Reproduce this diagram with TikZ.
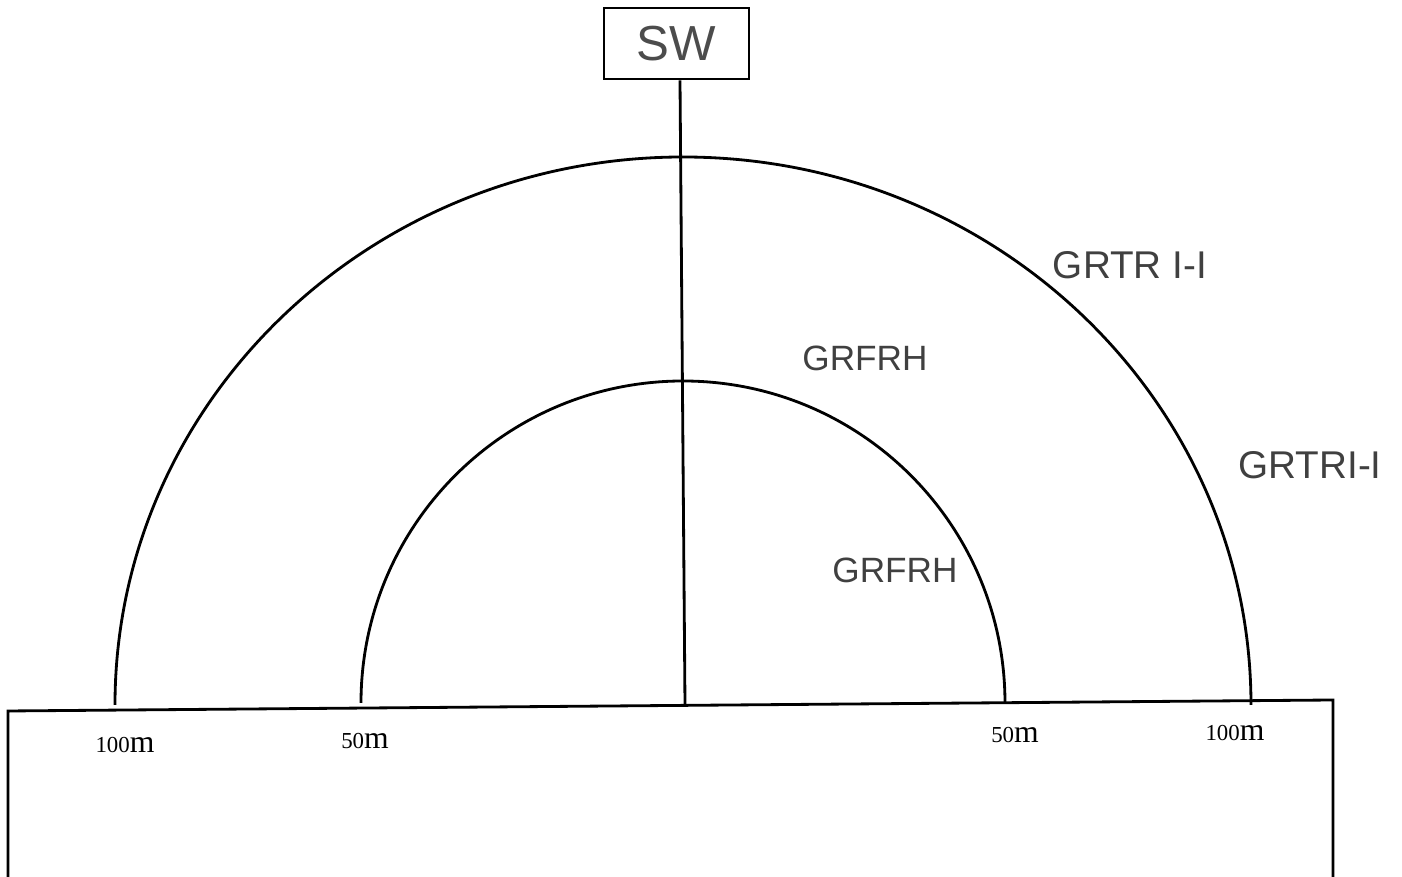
\documentclass[tikz,border=0pt]{standalone}
\usepackage{fontspec}
\setmainfont{Liberation Serif}
\newfontfamily\handfont{Liberation Sans}
\usepackage{tikz}

\newcommand{\dm}[1]{{\fontsize{6.5}{7}\selectfont #1}{\fontsize{9}{9}\selectfont m}}

\tikzset{
  hand/.style={font=\handfont\fontsize{11}{12}\selectfont, text=black!75},
  dist/.style={inner sep=1pt},
}

\begin{document}
\begin{tikzpicture}[x=0.01cm,y=-0.01cm,line width=0.8pt]
  \useasboundingbox (0,0) rectangle (1402,877);
  % base
  \draw (8,877) -- (8,711) -- (1333,700) -- (1333,877);
  % switch and cable
  \node[draw,minimum width=145*0.01cm,minimum height=71*0.01cm,
        font=\handfont\fontsize{14}{15}\selectfont,text=black!70] (sw) at (676.5,43.5) {SW};
  \coordinate (foot) at (685,705);
  \draw ([xshift=3.5*0.01cm]sw.south) -- (foot);
  % rings
  \draw (115,705) arc[start angle=180,end angle=360,x radius=568,y radius=548];
  \draw (361,703) arc[start angle=180,end angle=360,radius=322];
  % labels
  \node[hand] (outA) at (1130,265) {GRTR I-I};
  \node[hand,font=\handfont\fontsize{10}{11}\selectfont] (inA) at (865,358) {GRFRH};
  \node[hand] (outB) at (1310,465) {GRTRI-I};
  \node[hand,font=\handfont\fontsize{10}{11}\selectfont] (inB) at (895,570) {GRFRH};
  \node[dist] (l100) at (125,745) {\dm{100}};
  \node[dist] (l50) at (365,741) {\dm{50}};
  \node[dist] (r50) at (1015,735) {\dm{50}};
  \node[dist] (r100) at (1235,733) {\dm{100}};
\end{tikzpicture}
\end{document}
